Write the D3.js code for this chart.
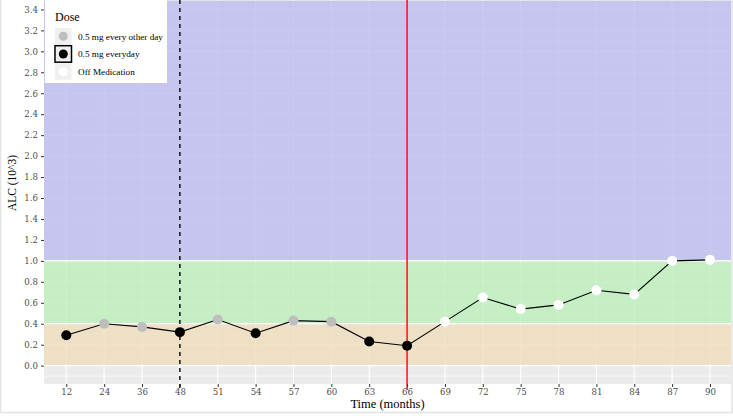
<!DOCTYPE html>
<html><head><meta charset="utf-8">
<script src="https://cdn.jsdelivr.net/npm/d3@7"></script>
<style>body{margin:0;background:#fff}svg{display:block}</style>
</head><body><svg id="c" width="733" height="416"></svg>
<script>
const months = ["12","24","36","48","51","54","57","60","63","66","69","72","75","78","81","84","87","90"];
const alc = [0.29,0.40,0.37,0.32,0.44,0.31,0.43,0.42,0.23,0.19,0.42,0.65,0.54,0.58,0.72,0.68,1.00,1.01];
const dose = ["every","other","other","every","other","every","other","other","every","every","off","off","off","off","off","off","off","off"];
const doseLabels = ["0.5 mg every other day","0.5 mg everyday","Off Medication"];
const doseKeys = ["other","every","off"];
const doseColors = ["#bebebe","#000000","#ffffff"];
const bandLo = [-1,0,0.4,1.0];
const bandHi = [0,0.4,1.0,10];
const bandColors = ["#ebebeb","#efddbc","#bcefbc","#bcbcef"];
const yTicks = d3.range(0,3.41,0.2);
const vLines = [{m:"48",color:"#000",dash:"4,4"},{m:"66",color:"#ff0000",dash:null}];

const svg = d3.select("#c");
const L=44, R=731, T=0, B=384;
const xi = d3.scaleLinear().domain([0,months.length-1]).range([66.3,710]);
const x = m => xi(months.indexOf(m));
const y = d3.scaleLinear().domain([-0.175,3.49]).range([B,T]);
const col = d3.scaleOrdinal().domain(doseKeys).range(doseColors);

// outer frame
svg.append("rect").attr("x",0.5).attr("y",-5).attr("width",731.5).attr("height",417.5)
  .attr("fill","none").attr("stroke","#e3e3e3").attr("stroke-width",1.5);

svg.append("rect").attr("x",L).attr("y",T).attr("width",R-L).attr("height",B-T).attr("fill","#ebebeb");
const g = svg.append("g");
// grid
d3.range(-0.1,3.5,0.1).forEach(v=>{
  const major = Math.abs(Math.round(v*10)%2)===0;
  g.append("line").attr("x1",L).attr("x2",R).attr("y1",y(v)).attr("y2",y(v))
   .attr("stroke","#fff").attr("stroke-width",major?1.1:0.55);
});
months.forEach(m=>{
  g.append("line").attr("x1",x(m)).attr("x2",x(m)).attr("y1",T).attr("y2",B).attr("stroke","#fff").attr("stroke-width",1.1);
});
// bands (translucent over grid)
bandColors.forEach((c,i)=>{
  if(i===0) return;
  const top = Math.max(y(bandHi[i]),T), bot = Math.min(y(bandLo[i]),B);
  g.append("rect").attr("x",L).attr("width",R-L).attr("y",top+0.8).attr("height",bot-top-1.6)
   .attr("fill",c).attr("fill-opacity",0.8);
});
// vertical markers
vLines.forEach(v=>{
  g.append("line").attr("x1",x(v.m)).attr("x2",x(v.m)).attr("y1",T).attr("y2",B+6)
   .attr("stroke",v.color).attr("stroke-width",1.4).attr("stroke-dasharray",v.dash);
});
// line + points
const pts = months.map((m,i)=>({m,v:alc[i],d:dose[i]}));
g.append("path").datum(pts).attr("fill","none").attr("stroke","#000").attr("stroke-width",1.1)
  .attr("d",d3.line().x(d=>x(d.m)).y(d=>y(d.v)));
g.selectAll("circle.p").data(pts).join("circle").attr("cx",d=>x(d.m)).attr("cy",d=>y(d.v))
  .attr("r",5).attr("fill",d=>col(d.d));

// axes
const tickFont = "'DejaVu Serif', serif";
const yAxis = svg.append("g").attr("transform",`translate(${L},0)`)
  .call(d3.axisLeft(y).tickValues(yTicks).tickFormat(d3.format(".1f")).tickSize(3).tickPadding(3));
const xAxis = svg.append("g").attr("transform",`translate(0,${B})`)
  .call(d3.axisBottom(xi).tickValues(d3.range(months.length)).tickFormat(i=>months[i]).tickSize(3).tickPadding(2));
[yAxis,xAxis].forEach(a=>{
  a.select(".domain").remove();
  a.selectAll(".tick line").attr("stroke","#333").attr("stroke-width",1);
  a.selectAll(".tick text").attr("fill","#4d4d4d").style("font-family",tickFont).style("font-size","8.6px");
});
svg.append("text").attr("x",(L+R)/2).attr("y",408).attr("text-anchor","middle")
  .style("font-family","'Liberation Serif', serif").style("font-size","12.5px").text("Time (months)");
svg.append("text").attr("transform","translate(16,183) rotate(-90)").attr("text-anchor","middle")
  .style("font-family","'Liberation Serif', serif").style("font-size","11.5px").text("ALC (10^3)");

// legend
const lg = svg.append("g");
lg.append("rect").attr("x",L+1).attr("y",0).attr("width",122).attr("height",83).attr("fill","#fff");
lg.append("text").attr("x",55).attr("y",21).style("font-family","'Liberation Serif', serif").style("font-size","12px").text("Dose");
doseKeys.forEach((k,i)=>{
  const ky = 28 + i*17.7;
  lg.append("rect").attr("x",55).attr("y",ky).attr("width",16.5).attr("height",16.5)
    .attr("fill","#f0f0f0").attr("stroke",k==="every"?"#000":"none").attr("stroke-width",1.5);
  lg.append("circle").attr("cx",63.3).attr("cy",ky+8.3).attr("r",4.5).attr("fill",col(k));
  lg.append("text").attr("x",78).attr("y",ky+11.5).style("font-family","'Liberation Serif', serif")
    .style("font-size","9.2px").text(doseLabels[i]);
});
</script></body></html>
